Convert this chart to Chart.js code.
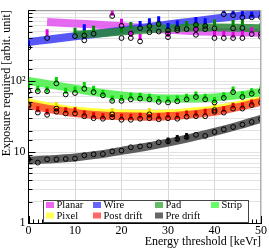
<!DOCTYPE html>
<html><head><meta charset="utf-8">
<script src="https://cdn.jsdelivr.net/npm/chart.js@4/dist/chart.umd.min.js"></script>
<style>html,body{margin:0;padding:0;background:#fff;}</style>
</head><body>
<canvas id="c" width="269" height="251"></canvas>
<script>
// ---------- data ----------
const energies = [0,2,4,6,8,10,12,14,16,18,20,22,24,26,28,30,32,34,36,38,40,42,44,46,48,50];
const bandX    = [0,4,10,15,20,25,30,35,40,45,50];

const planarBand = [null,680,650,625,595,560,530,510,497,488,482];
const wireBand   = [357,383,430,470,520,570,630,690,760,830,900];
const padBand    = [null,null,455,470,500,530,555,568,570,565,555];
const stripBand  = [101,91,78,69,63,59,57,57,59,63,70];
const pixelBand  = [50,44.5,38.5,36,35,34.5,35,37,40,46,54];
const postBand   = [46,41,35.5,33,32,31.5,32,34,37,43,51];
const preBand    = [7.6,7.85,8.4,9.2,10.4,11.8,13.6,16,19.2,23.5,29.5];

//                 0    2    4    6    8    10   12   14   16   18   20   22   24   26   28   30   32   34   36   38   40   42   44   46   48   50
const planarMarks = [null,null,490,null,null,null,null,null,null,920,690,465,420,null,null,465,null,null,520,null,465,465,450,465,520,470];
const planarCirc  = [null,null,405,null,null,null,null,null,null,828,604,405,363,null,null,417,null,null,450,null,405,405,405,405,460,420];
const wireMarks   = [340,null,null,null,null,null,575,null,null,null,null,null,640,700,745,600,650,null,730,700,null,1000,960,900,870,930];
const wireCirc    = [298,null,null,null,null,null,376,null,null,null,null,null,560,600,640,520,560,null,620,600,null,877,850,795,795,795];
const padMarks    = [null,null,null,null,null,515,500,547,null,null,530,617,null,572,637,555,600,637,637,637,670,null,660,670,null,600];
const padCirc     = [null,null,null,null,null,430,440,465,null,null,405,470,null,489,500,470,520,540,540,540,555,null,555,560,null,465];
const stripMarks  = [86,78,76,104,73,76,88,78,68,57,58,62,62,60,56,55,57,60,65,60,54,63,76,65,72,78];
const stripCirc   = [72,72,72,93,65,68,78,70,63,52.7,52.7,55.4,56.7,55.4,51,50,52,55.4,59.8,55.4,50,58,70,59.8,66.4,72];
const pixelMarks  = [52,null,null,46,null,null,null,null,null,38,null,null,null,38,null,null,null,null,null,null,44,null,null,null,null,null];
const pixelCirc   = [47,null,null,41,null,null,null,null,null,34,null,null,null,34,null,null,null,null,null,null,39,null,null,null,null,null];
const postMarks   = [50,40,37,41,39,39,35,33,32,34,31.5,31.5,32.5,33,32,33,32.5,35,35,37,41,40,45,45,50,55];
const postCirc    = [45,36,33.5,37,35,35,32,30,29.5,31,28.5,28.5,29.5,30,29,30,29.5,31.5,32,32,37,36,41,41,46,50];
const preMarks    = [7.9,null,null,null,null,null,null,null,null,null,null,null,null,null,null,14.6,15.8,16.8,null,null,null,null,null,null,null,null];
const preCirc     = [7.9,7.1,7.9,7.9,8.0,8.1,9.0,9.3,9.4,10.2,10.5,11.7,12.0,12.4,13.7,14.1,15.2,16.2,17.5,16.9,19.2,20.9,22.5,24.4,26.6,29.2];

const seriesNames = ['Planar','Wire','Pad','Strip','Pixel','Post drift','Pre drift'];
const yTickLabels = {1:'1', 10:'10', 100:'10\u00B2'};

// ---------- styles ----------
const bandColors  = ['rgba(226,90,240,0.9)','rgba(70,70,245,0.9)','rgba(40,135,55,0.85)','rgba(80,240,80,0.9)','rgba(255,255,60,1)','rgba(255,70,40,0.85)','rgba(85,85,85,0.95)'];
const bandOrder   = [23,22,21,20,22,21,20];
const markColors  = ['#e000e0','#0000ff','#008800','#00d800','#f0e000','#e00000','#111111'];
const swatchColors= ['#ee66ee','#6666ff','#66bb66','#66ff66','#ffff55','#ff6666','#666666'];

const bands = [planarBand,wireBand,padBand,stripBand,pixelBand,postBand,preBand];
const marks = [planarMarks,wireMarks,padMarks,stripMarks,pixelMarks,postMarks,preMarks];
const circs = [planarCirc,wireCirc,padCirc,stripCirc,pixelCirc,postCirc,preCirc];

function pts(xs, ys){ const o=[]; xs.forEach((x,i)=>{ if(ys[i]!==null) o.push({x:x,y:ys[i]}); }); return o; }

const datasets = [];
seriesNames.forEach((n,i)=>{
  datasets.push({label:n, data:pts(bandX,bands[i]), borderColor:bandColors[i], borderWidth:8, pointRadius:0, tension:0.4, fill:false, order:bandOrder[i]});
});
seriesNames.forEach((n,i)=>{
  datasets.push({label:n+' marks', data:pts(energies,marks[i]), showLine:false, pointStyle:'line', rotation:90, pointRadius:3, borderWidth:3, borderColor:markColors[i], backgroundColor:markColors[i], order:5});
  datasets.push({label:n+' sim', data:pts(energies,circs[i]), showLine:false, pointStyle:'circle', pointRadius:2.4, borderWidth:1, borderColor:'#000', backgroundColor:'rgba(0,0,0,0)', order:1});
});

const SERIF = "'Liberation Serif','DejaVu Serif',serif";

const frame = {
  id:'frame',
  afterDatasetsDraw(chart){
    const ctx=chart.ctx, a=chart.chartArea, xs=chart.scales.x, ys=chart.scales.y;
    ctx.save();
    ctx.strokeStyle='#8a8a8a'; ctx.lineWidth=1;
    ctx.beginPath(); ctx.moveTo(a.left,a.top+0.5); ctx.lineTo(a.right,a.top+0.5); ctx.stroke();
    ctx.strokeStyle='#b0b0b0';
    ctx.beginPath(); ctx.moveTo(a.right-0.5,a.top); ctx.lineTo(a.right-0.5,a.bottom); ctx.stroke();
    ctx.strokeStyle='#000';
    ys.ticks.forEach(t=>{
      const lg=Math.log10(t.value); const maj=Math.abs(lg-Math.round(lg))<1e-9;
      const y=Math.round(ys.getPixelForValue(t.value))+0.5;
      ctx.beginPath(); ctx.moveTo(a.left,y); ctx.lineTo(a.left+(maj?7:4),y); ctx.stroke();
    });
    for(let v=0; v<=50; v++){
      const x=Math.round(xs.getPixelForValue(v))+0.5; const maj=v%10===0;
      ctx.beginPath(); ctx.moveTo(x,a.bottom); ctx.lineTo(x,a.bottom-(maj?7:3.5)); ctx.stroke();
    }
    const L=43, T=200, W=205, H=22;
    ctx.fillStyle='#fff'; ctx.fillRect(L,T,W,H);
    ctx.strokeStyle='#444'; ctx.strokeRect(L+0.5,T+0.5,W,H);
    const cols=[46,93,155,211], rows=[205,215.5];
    ctx.font="10.5px "+SERIF; ctx.textBaseline='middle'; ctx.textAlign='left';
    seriesNames.forEach((n,i)=>{
      const cx=cols[i%4], cy=rows[Math.floor(i/4)];
      ctx.fillStyle=swatchColors[i]; ctx.fillRect(cx,cy-3,8,6);
      ctx.fillStyle='#000'; ctx.fillText(n,cx+10.5,cy+0.5);
    });
    ctx.restore();
  }
};

new Chart(document.getElementById('c'),{
  type:'line',
  data:{datasets:datasets},
  options:{
    responsive:false, animation:false, devicePixelRatio:1,
    layout:{padding:{top:4,right:8,left:0,bottom:0}},
    plugins:{legend:{display:false}, tooltip:{enabled:false}},
    scales:{
      x:{type:'linear', min:0, max:50,
         ticks:{stepSize:10, color:'#000', font:{family:SERIF,size:12}, padding:1, maxRotation:0},
         grid:{color:'#d8d8d8', drawTicks:false},
         border:{color:'#000', width:1},
         title:{display:true, text:'Energy threshold [keVr]', align:'end', color:'#000', font:{family:SERIF,size:12}, padding:{top:0,bottom:2}},
         afterFit(s){ s.height=28; }
      },
      y:{type:'logarithmic', min:1, max:1000,
         ticks:{color:'#000', font:{family:SERIF,size:12}, padding:3, autoSkip:false,
                callback:(v)=> yTickLabels[v] !== undefined ? yTickLabels[v] : ''},
         grid:{color:'#e2e2e2', drawTicks:false},
         border:{color:'#000', width:1},
         title:{display:true, text:'Exposure required [arbit. unit]', align:'end', color:'#000', font:{family:SERIF,size:12}, padding:{top:0,bottom:0}},
         afterFit(s){ s.width=28.5; }
      }
    }
  },
  plugins:[frame]
});
</script>
</body></html>
